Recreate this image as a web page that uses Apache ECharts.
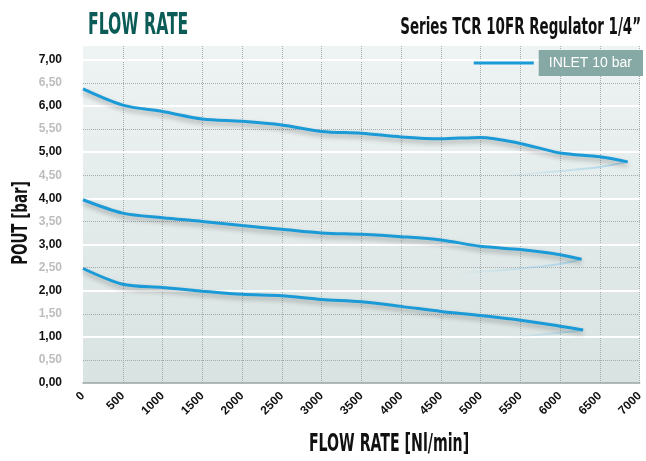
<!DOCTYPE html>
<html>
<head>
<meta charset="utf-8">
<script src="https://cdn.jsdelivr.net/npm/echarts@6/dist/echarts.min.js"></script>
<style>
html,body{margin:0;padding:0;background:#fff;}
#chart{width:646px;height:461px;}
</style>
</head>
<body>
<div id="chart"></div>
<script>
var FONT_C = "'DejaVu Sans Condensed', 'DejaVu Sans', sans-serif";
var FONT_L = "'Liberation Sans', Arial, sans-serif";

var titleText = 'FLOW RATE';
var subtitleText = 'Series TCR 10FR Regulator 1/4\u201D';
var legendName = 'INLET 10 bar';
var xAxisName = 'FLOW RATE [Nl/min]';
var yAxisName = 'POUT [bar]';

// Upper curve
var flowHigh = [0, 500, 1000, 1500, 2000, 2500, 3000, 3500, 4000, 4500, 5000, 5500, 6000, 6500, 6850];
var poutHigh = [6.37, 6.02, 5.88, 5.72, 5.67, 5.59, 5.45, 5.41, 5.33, 5.29, 5.32, 5.19, 4.98, 4.90, 4.79];
// Middle curve
var flowMid = [0, 500, 1000, 1500, 2000, 2500, 3000, 3500, 4000, 4500, 5000, 5500, 6000, 6270];
var poutMid = [3.97, 3.68, 3.58, 3.50, 3.41, 3.33, 3.25, 3.22, 3.17, 3.10, 2.96, 2.89, 2.78, 2.68];
// Lower curve
var flowLow = [0, 500, 1000, 1500, 2000, 2500, 3000, 3500, 4000, 4500, 5000, 5500, 6000, 6290];
var poutLow = [2.48, 2.14, 2.07, 1.99, 1.92, 1.89, 1.81, 1.76, 1.66, 1.55, 1.46, 1.36, 1.23, 1.15];

// Faint reflection lines
var flowGhostHigh = [5200, 5500, 6000, 6500, 6850];
var poutGhostHigh = [4.48, 4.51, 4.59, 4.68, 4.79];
var flowGhostMid = [4700, 5000, 5500, 6000, 6270];
var poutGhostMid = [2.38, 2.41, 2.48, 2.58, 2.68];
var flowGhostLow = [5300, 5500, 6000, 6290];
var poutGhostLow = [0.99, 1.01, 1.09, 1.15];

function pairs(xs, ys) { return xs.map(function (x, i) { return [x, ys[i]]; }); }

var lineColor = '#1b9ad8';

function mainSeries(xs, ys) {
  return {
    type: 'line', name: legendName, data: pairs(xs, ys),
    smooth: 0.3, symbol: 'none', z: 5,
    lineStyle: { color: lineColor, width: 3, shadowColor: 'rgba(0,0,0,0.3)', shadowBlur: 5, shadowOffsetY: 3 },
    itemStyle: { color: lineColor }
  };
}
function ghostSeries(name, xs, ys) {
  return {
    type: 'line', name: name, data: pairs(xs, ys),
    smooth: 0.3, symbol: 'none', z: 4,
    lineStyle: {
      width: 2,
      color: new echarts.graphic.LinearGradient(0, 0, 1, 0, [
        { offset: 0, color: 'rgba(150,205,230,0)' },
        { offset: 1, color: 'rgba(150,205,230,0.75)' }
      ])
    }
  };
}

var chart = echarts.init(document.getElementById('chart'), null, { renderer: 'canvas' });
chart.setOption({
  animation: false,
  backgroundColor: '#ffffff',
  graphic: [
    { type: 'text', x: 88, y: 11, scaleX: 0.58,
      style: { text: titleText, fontSize: 30, fontWeight: 'bold', fontFamily: FONT_C, fill: '#0b5b57', align: 'left', verticalAlign: 'top' } },
    { type: 'text', x: 641, y: 17, scaleX: 0.65,
      style: { text: subtitleText, fontSize: 23, fontWeight: 'bold', fontFamily: FONT_C, fill: '#111', align: 'right', verticalAlign: 'top' } },
    { type: 'text', x: 389, y: 444, scaleX: 0.63,
      style: { text: xAxisName, fontSize: 25, fontWeight: 'bold', fontFamily: FONT_C, fill: '#111', align: 'center', verticalAlign: 'middle' } },
    { type: 'text', x: 21, y: 223, rotation: Math.PI / 2, scaleX: 0.68,
      style: { text: yAxisName, fontSize: 22, fontWeight: 'bold', fontFamily: FONT_C, fill: '#111', align: 'center', verticalAlign: 'middle' } }
  ],
  legend: {
    data: [legendName], right: 3, top: 50, padding: 0, itemWidth: 60, itemHeight: 3, itemGap: 0,
    icon: 'rect', selectedMode: false,
    textStyle: { color: '#ffffff', fontSize: 14, fontFamily: FONT_L, backgroundColor: '#86a9a5', padding: [6, 11, 6, 10], lineHeight: 14 }
  },
  grid: {
    left: 83, right: 3, top: 46, bottom: 78, show: true, borderWidth: 0,
    backgroundColor: new echarts.graphic.LinearGradient(0, 0, 0, 1, [
      { offset: 0, color: '#eef3f3' },
      { offset: 1, color: '#d8e3e2' }
    ])
  },
  xAxis: {
    type: 'value', min: 0, max: 7000, interval: 500,
    axisLine: { show: true, lineStyle: { color: '#9aa3a3', width: 1.5 } },
    axisTick: { show: false },
    axisLabel: {
      rotate: 45, margin: 11, fontSize: 12, fontWeight: 'bold', fontFamily: FONT_L, color: '#111',
      formatter: function (v) { return String(v); }
    },
    splitLine: { show: true, showMinLine: false, lineStyle: { type: 'dotted', color: '#a4abab', width: 1 } }
  },
  yAxis: [
    {
      type: 'value', min: 0, max: 7.3, interval: 0.5, z: 1,
      axisLine: { show: false }, axisTick: { show: false },
      axisLabel: {
        margin: 21, showMaxLabel: false,
        formatter: function (v) {
          var r = Math.round(v * 2);
          if (Math.abs(v * 2 - r) > 1e-6) return '';
          var s = v.toFixed(2).replace('.', ',');
          return (r % 2 === 0) ? '{a|' + s + '}' : '{b|' + s + '}';
        },
        rich: {
          a: { fontSize: 12, fontWeight: 'bold', fontFamily: FONT_L, color: '#111' },
          b: { fontSize: 12, fontWeight: 'bold', fontFamily: FONT_L, color: '#bdbdbd' }
        }
      },
      splitLine: { show: true, showMinLine: false, showMaxLine: false, lineStyle: { type: 'dotted', color: '#a4abab', width: 1 } }
    },
    {
      type: 'value', min: 0, max: 7.3, interval: 1, z: 2, position: 'left',
      axisLine: { show: false }, axisTick: { show: false }, axisLabel: { show: false },
      splitLine: { show: true, showMinLine: false, showMaxLine: false, lineStyle: { type: 'solid', color: '#ffffff', width: 2 } }
    }
  ],
  series: [
    ghostSeries('g1', flowGhostHigh, poutGhostHigh),
    ghostSeries('g2', flowGhostMid, poutGhostMid),
    ghostSeries('g3', flowGhostLow, poutGhostLow),
    mainSeries(flowHigh, poutHigh),
    mainSeries(flowMid, poutMid),
    mainSeries(flowLow, poutLow)
  ]
});
</script>
</body>
</html>
